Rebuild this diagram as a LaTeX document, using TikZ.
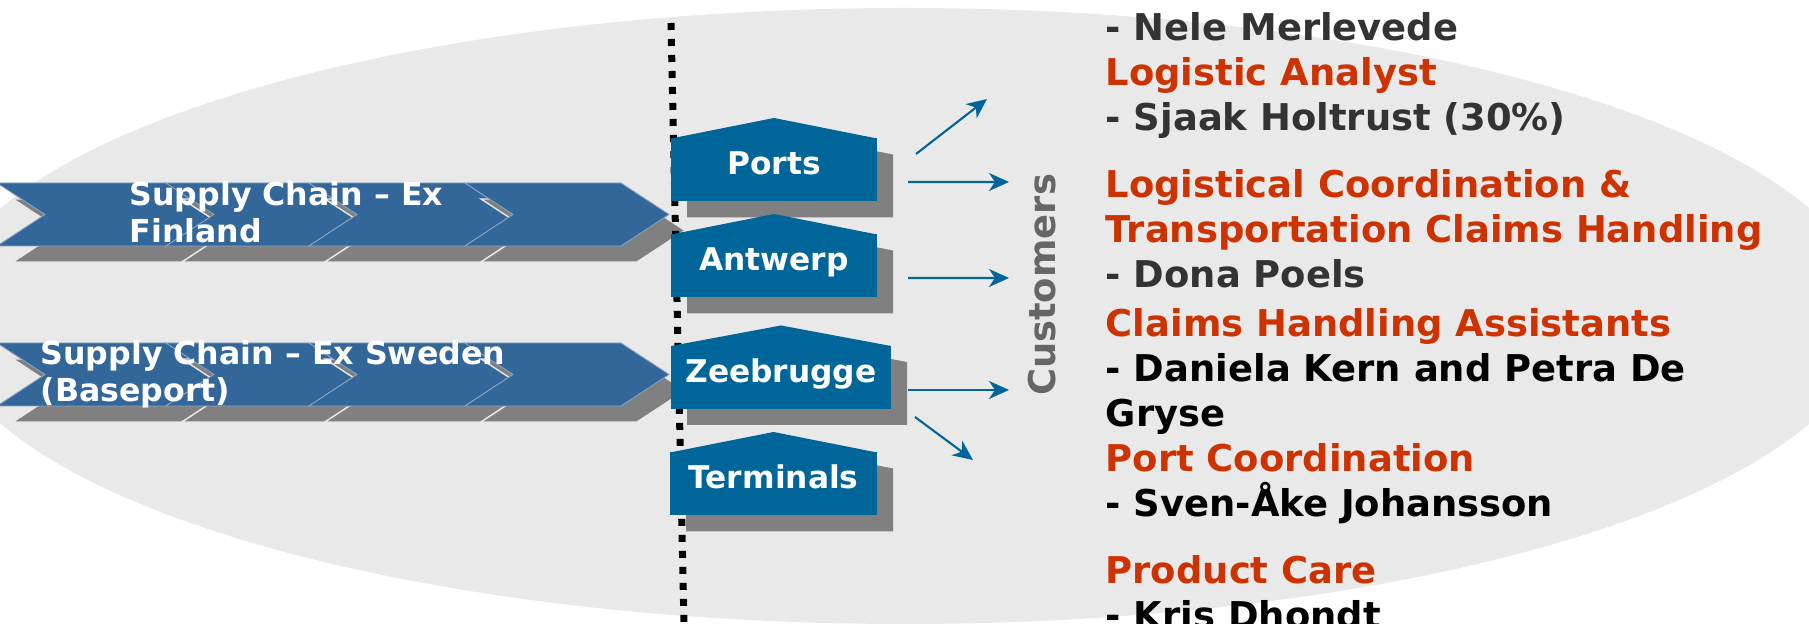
\documentclass[tikz,border=0pt]{standalone}
\usepackage{fontspec}
\setmainfont{DejaVu Sans}
\usetikzlibrary{arrows.meta}

\definecolor{ovalgray}{RGB}{233,233,233}
\definecolor{chevblue}{RGB}{51,102,153}
\definecolor{portblue}{RGB}{0,102,153}
\definecolor{shadowgray}{RGB}{128,128,128}
\definecolor{rolered}{RGB}{204,51,0}
\definecolor{namegray}{RGB}{51,51,51}
\definecolor{custgray}{RGB}{102,102,102}

\begin{document}
\begin{tikzpicture}[
  portbox/.style={fill=portblue, text=white, inner sep=0pt, outer sep=0pt,
    minimum height=0.63cm, text height=0.23cm, text depth=0.13cm,
    font=\bfseries\fontsize{8.9}{10}\selectfont},
  chevron/.style={fill=chevblue, draw=white!40!chevblue, line width=0.25pt},
  chevshadow/.style={fill=shadowgray, draw=white!80!shadowgray, line width=0.4pt},
  chevtext/.style={text=white, align=left, inner sep=0pt, anchor=north west,
    font=\bfseries\fontsize{9}{10.6}\selectfont},
  flow/.style={portblue, line width=0.6pt, -{Stealth[length=2mm,width=1.8mm,inset=0.6mm]}}
]
\useasboundingbox (0,0) rectangle (18.09,6.24);

% Background oval
\fill[ovalgray] (9.05,3.08) ellipse [x radius=9.65, y radius=3.08];

% Supply chain chevrons, two rows of four
\foreach \y in {4.095,2.495} {
  \foreach \a/\b in {-0.03/1.66, 1.66/3.09, 3.09/4.65, 4.65/6.21} {
    \draw[chevshadow, xshift=1.6mm, yshift=-1.6mm] (\a,\y+0.315) -- (\b,\y+0.315) -- (\b+0.48,\y)
      -- (\b,\y-0.315) -- (\a,\y-0.315) -- (\a+0.48,\y) -- cycle;
    \draw[chevron] (\a,\y+0.315) -- (\b,\y+0.315) -- (\b+0.48,\y)
      -- (\b,\y-0.315) -- (\a,\y-0.315) -- (\a+0.48,\y) -- cycle;
  }
}
\node[chevtext] (finland) at (1.29,4.43) {Supply Chain -- Ex\\Finland};
\node[chevtext] (sweden) at (0.40,2.84) {Supply Chain -- Ex Sweden\\(Baseport)};

% Dotted divider
\draw[line width=0.07cm, dash pattern=on 0.07cm off 0.09cm] (6.71,6.01) -- (6.84,0);

% Ports and terminals (house shaped boxes with shadow)
\foreach \nm/\x/\y/\w/\lbl in {ports/7.74/4.54/2.06/Ports, antwerp/7.74/3.58/2.06/Antwerp,
    zeebrugge/7.81/2.465/2.20/Zeebrugge, terminals/7.735/1.40/2.07/Terminals} {
  \fill[shadowgray] (\x-\w/2+0.16,\y-0.475) -- (\x+\w/2+0.16,\y-0.475) -- (\x+\w/2+0.16,\y+0.155)
    -- (\x+0.16,\y+0.36) -- (\x-\w/2+0.16,\y+0.155) -- cycle;
  \node[portbox, minimum width=\w cm] (\nm) at (\x,\y) {\lbl};
  \fill[portblue] (\nm.north west) -- (\x,\y+0.52) -- (\nm.north east) -- cycle;
}

% Customers
\node[rotate=90, text=custgray, font=\bfseries\fontsize{10.5}{12}\selectfont] (customers) at (10.42,3.39) {Customers};

% Flows towards the customers
\coordinate (c1) at (9.87,5.25);
\coordinate (c2) at (10.09,4.42);
\coordinate (c3) at (10.09,3.46);
\coordinate (c4) at (10.09,2.34);
\coordinate (c5) at (9.73,1.64);
\draw[flow] ([shift={(0.39,0.16)}]ports.east) -- (c1);
\draw[flow] ([shift={(0.31,-0.12)}]ports.east) -- (c2);
\draw[flow] ([shift={(0.31,-0.12)}]antwerp.east) -- (c3);
\draw[flow] ([shift={(0.17,-0.125)}]zeebrugge.east) -- (c4);
\draw[flow] ([shift={(0.24,-0.395)}]zeebrugge.east) -- (c5);

% Roles and people
\node[anchor=north west, inner sep=0pt, align=left, font=\bfseries\fontsize{10.5}{12.8}\selectfont] (roles) at (11.05,6.12) {%
  \textcolor{namegray}{- Nele Merlevede}\\
  \textcolor{rolered}{Logistic Analyst}\\
  \textcolor{namegray}{- Sjaak Holtrust (30\%)}\\[0.22cm]
  \textcolor{rolered}{Logistical Coordination \&}\\
  \textcolor{rolered}{Transportation Claims Handling}\\
  \textcolor{namegray}{- Dona Poels}\\[0.04cm]
  \textcolor{rolered}{Claims Handling Assistants}\\
  - Daniela Kern and Petra De\\
  Gryse\\
  \textcolor{rolered}{Port Coordination}\\
  - Sven-Åke Johansson\\[0.22cm]
  \textcolor{rolered}{Product Care}\\
  - Kris Dhondt};
\end{tikzpicture}
\end{document}
